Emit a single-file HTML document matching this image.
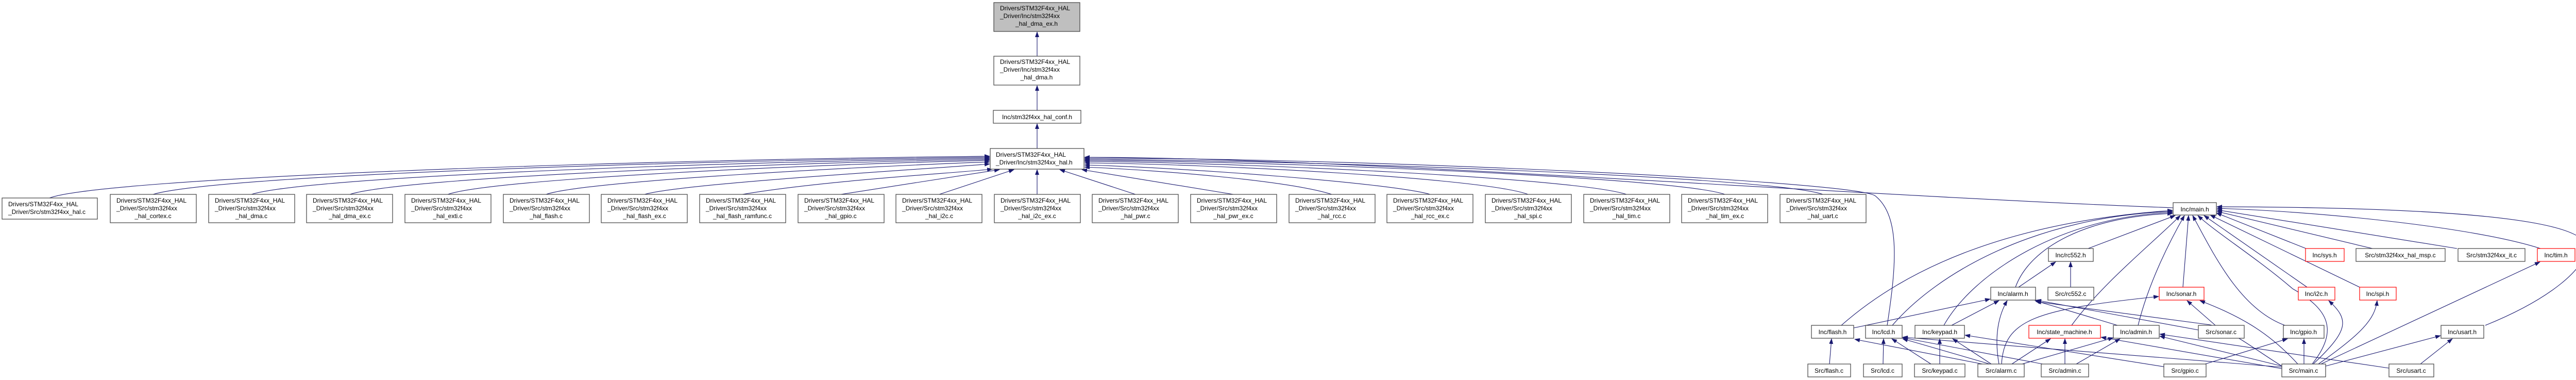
<!DOCTYPE html>
<html><head><meta charset="utf-8"><style>
html,body{margin:0;padding:0;background:#fff;}
svg{display:block;}
text{font-family:"Liberation Sans",Arial,sans-serif;font-size:12px;fill:#000;}
.b{fill:#fff;stroke:#404040;stroke-width:1.2;}
.r{fill:#fff;stroke:#ff0000;stroke-width:1.2;}
.g{fill:#bfbfbf;stroke:#404040;stroke-width:1.2;}
.e{fill:none;stroke:#191970;stroke-width:1.1;marker-end:url(#a);}
</style></head><body>
<svg width="5029" height="737" viewBox="0 0 5029 737" xmlns="http://www.w3.org/2000/svg">
<defs><marker id="a" markerUnits="userSpaceOnUse" markerWidth="11" markerHeight="8" refX="10" refY="4" orient="auto"><path d="M0,0 L11,4 L0,8 z" fill="#191970"/></marker></defs>

<!-- edges top -->
<path class="e" d="M2013,109 L2013,62"/>
<path class="e" d="M2013,214 L2013,166"/>
<path class="e" d="M2013,288 L2013,240"/>

<!-- src -> hal.h -->
<path class="e" d="M96,384 C200,345 1200,310 1921,303"/>
<path class="e" d="M297,377 C420,340 1300,312 1921,305"/>
<path class="e" d="M488,377 C600,342 1400,314 1921,307"/>
<path class="e" d="M679,377 C780,344 1500,316 1921,309"/>
<path class="e" d="M869,377 C960,346 1600,318 1921,311"/>
<path class="e" d="M1060,377 C1140,350 1700,322 1921,314"/>
<path class="e" d="M1251,377 C1330,355 1800,328 1921,318"/>
<path class="e" d="M1441,377 C1600,350 1850,336 1926,328"/>
<path class="e" d="M1632,377 L1940,329"/>
<path class="e" d="M1823,377 L1968,329"/>
<path class="e" d="M2013,377 L2013,329"/>
<path class="e" d="M2204,377 L2057,329"/>
<path class="e" d="M2394,377 L2100,329"/>
<path class="e" d="M2585,377 C2500,350 2250,330 2105,324"/>
<path class="e" d="M2776,377 C2700,355 2300,325 2105,320"/>
<path class="e" d="M2966,377 C2880,345 2350,318 2105,316"/>
<path class="e" d="M3157,377 C3060,345 2400,315 2105,313"/>
<path class="e" d="M3348,377 C3250,343 2450,312 2105,311"/>
<path class="e" d="M3538,377 C3440,342 2500,310 2105,309"/>
<path class="e" d="M4218,403 C3600,380 2600,305 2105,305"/>
<path class="e" d="M3663,631 C3680,520 3690,420 3640,380 C3600,350 2600,305 2105,307"/>

<!-- -> main.h -->
<path class="e" d="M3574,631 C3700,520 3900,430 4217,408"/>
<path class="e" d="M3673,631 C3760,530 3950,420 4217,410"/>
<path class="e" d="M3773,631 C3830,530 4000,420 4217,412"/>
<path class="e" d="M3912,557 C3940,480 4050,420 4217,414"/>
<path class="e" d="M4053,482 L4222,418"/>
<path class="e" d="M4021,631 C4080,550 4180,470 4232,418"/>
<path class="e" d="M4150,631 C4170,550 4210,470 4240,418"/>
<path class="e" d="M4237,557 L4248,418"/>
<path class="e" d="M4435,631 C4350,600 4300,500 4256,418"/>
<path class="e" d="M4488,706 C4540,640 4520,600 4450,560 C4380,500 4300,450 4266,418"/>
<path class="e" d="M4478,557 L4278,418"/>
<path class="e" d="M4580,557 L4290,417"/>
<path class="e" d="M4476,482 L4302,413"/>
<path class="e" d="M4605,482 L4303,410"/>
<path class="e" d="M4769,482 L4303,407"/>
<path class="e" d="M4931,482 C4800,440 4500,410 4303,404"/>
<path class="e" d="M4824,631 C4950,580 5020,520 5020,480 C5020,420 4700,402 4303,401"/>

<!-- rc552.h -->
<path class="e" d="M3918,557 L3990,508"/>
<path class="e" d="M4019,557 L4019,508"/>
<!-- alarm.h -->
<path class="e" d="M3598,636 L3863,580"/>
<path class="e" d="M3788,631 L3880,583"/>
<path class="e" d="M3880,706 C3870,650 3880,610 3896,583"/>
<path class="e" d="M4110,631 L3950,583"/>
<path class="e" d="M4267,640 L3952,582"/>
<path class="e" d="M4429,710 C4380,680 4330,640 4290,630 L3952,585"/>
<!-- sonar.h -->
<path class="e" d="M3885,706 C3890,620 3950,600 4190,575"/>
<path class="e" d="M4300,631 L4245,583"/>
<path class="e" d="M4460,706 C4400,640 4340,610 4270,583"/>
<!-- flash.h -->
<path class="e" d="M3551,706 L3555,657"/>
<path class="e" d="M3848,706 L3600,658"/>
<!-- lcd.h -->
<path class="e" d="M3655,706 L3656,657"/>
<path class="e" d="M3748,706 L3672,657"/>
<path class="e" d="M3862,706 L3693,657"/>
<path class="e" d="M3965,706 L3693,655"/>
<path class="e" d="M4429,712 L3693,654"/>
<!-- keypad.h -->
<path class="e" d="M3765,706 L3765,657"/>
<path class="e" d="M3865,706 L3790,657"/>
<path class="e" d="M4205,712 L3814,650"/>
<!-- state machine -->
<path class="e" d="M3905,706 L3980,657"/>
<path class="e" d="M4008,706 L4008,657"/>
<path class="e" d="M4429,715 L4078,654"/>
<!-- admin.h -->
<path class="e" d="M3925,706 L4102,655"/>
<path class="e" d="M4030,706 L4115,657"/>
<path class="e" d="M4429,710 L4192,652"/>
<path class="e" d="M4637,714 L4192,648"/>
<!-- gpio.h -->
<path class="e" d="M4280,706 L4440,657"/>
<path class="e" d="M4472,706 L4472,657"/>
<!-- i2c/spi/tim/usart -->
<path class="e" d="M4490,706 C4560,640 4560,620 4520,583"/>
<path class="e" d="M4500,706 C4580,650 4610,620 4614,583"/>
<path class="e" d="M4505,706 L4930,508"/>
<path class="e" d="M4514,710 L4737,651"/>
<path class="e" d="M4698,706 L4760,657"/>

<!-- top nodes -->
<rect class="g" x="1929" y="5" width="167" height="56"/>
<text x="1941" y="20">Drivers/STM32F4xx_HAL</text><text x="1941" y="35">_Driver/Inc/stm32f4xx</text><text x="2012" y="50" text-anchor="middle">_hal_dma_ex.h</text>
<rect class="b" x="1929" y="109" width="167" height="56"/>
<text x="1941" y="124">Drivers/STM32F4xx_HAL</text><text x="1941" y="139">_Driver/Inc/stm32f4xx</text><text x="2012" y="154" text-anchor="middle">_hal_dma.h</text>
<rect class="b" x="1928" y="214" width="170" height="25"/>
<text x="2013" y="231" text-anchor="middle">Inc/stm32f4xx_hal_conf.h</text>
<rect class="b" x="1922" y="288" width="182" height="40"/>
<text x="1933" y="304">Drivers/STM32F4xx_HAL</text><text x="1933" y="319">_Driver/Inc/stm32f4xx_hal.h</text>

<!-- src row -->
<rect class="b" x="4" y="384" width="185" height="41"/>
<text x="16" y="400">Drivers/STM32F4xx_HAL</text><text x="16" y="415">_Driver/Src/stm32f4xx_hal.c</text>
<g>
<rect class="b" x="214" y="377" width="167" height="55"/><text x="226" y="393">Drivers/STM32F4xx_HAL</text><text x="226" y="408">_Driver/Src/stm32f4xx</text><text x="297" y="423" text-anchor="middle">_hal_cortex.c</text>
<rect class="b" x="405" y="377" width="167" height="55"/><text x="417" y="393">Drivers/STM32F4xx_HAL</text><text x="417" y="408">_Driver/Src/stm32f4xx</text><text x="488" y="423" text-anchor="middle">_hal_dma.c</text>
<rect class="b" x="595" y="377" width="167" height="55"/><text x="607" y="393">Drivers/STM32F4xx_HAL</text><text x="607" y="408">_Driver/Src/stm32f4xx</text><text x="679" y="423" text-anchor="middle">_hal_dma_ex.c</text>
<rect class="b" x="786" y="377" width="167" height="55"/><text x="798" y="393">Drivers/STM32F4xx_HAL</text><text x="798" y="408">_Driver/Src/stm32f4xx</text><text x="869" y="423" text-anchor="middle">_hal_exti.c</text>
<rect class="b" x="977" y="377" width="167" height="55"/><text x="989" y="393">Drivers/STM32F4xx_HAL</text><text x="989" y="408">_Driver/Src/stm32f4xx</text><text x="1060" y="423" text-anchor="middle">_hal_flash.c</text>
<rect class="b" x="1167" y="377" width="167" height="55"/><text x="1179" y="393">Drivers/STM32F4xx_HAL</text><text x="1179" y="408">_Driver/Src/stm32f4xx</text><text x="1251" y="423" text-anchor="middle">_hal_flash_ex.c</text>
<rect class="b" x="1358" y="377" width="167" height="55"/><text x="1370" y="393">Drivers/STM32F4xx_HAL</text><text x="1370" y="408">_Driver/Src/stm32f4xx</text><text x="1441" y="423" text-anchor="middle">_hal_flash_ramfunc.c</text>
<rect class="b" x="1549" y="377" width="167" height="55"/><text x="1561" y="393">Drivers/STM32F4xx_HAL</text><text x="1561" y="408">_Driver/Src/stm32f4xx</text><text x="1632" y="423" text-anchor="middle">_hal_gpio.c</text>
<rect class="b" x="1739" y="377" width="167" height="55"/><text x="1751" y="393">Drivers/STM32F4xx_HAL</text><text x="1751" y="408">_Driver/Src/stm32f4xx</text><text x="1823" y="423" text-anchor="middle">_hal_i2c.c</text>
<rect class="b" x="1930" y="377" width="167" height="55"/><text x="1942" y="393">Drivers/STM32F4xx_HAL</text><text x="1942" y="408">_Driver/Src/stm32f4xx</text><text x="2013" y="423" text-anchor="middle">_hal_i2c_ex.c</text>
<rect class="b" x="2120" y="377" width="167" height="55"/><text x="2132" y="393">Drivers/STM32F4xx_HAL</text><text x="2132" y="408">_Driver/Src/stm32f4xx</text><text x="2204" y="423" text-anchor="middle">_hal_pwr.c</text>
<rect class="b" x="2311" y="377" width="167" height="55"/><text x="2323" y="393">Drivers/STM32F4xx_HAL</text><text x="2323" y="408">_Driver/Src/stm32f4xx</text><text x="2394" y="423" text-anchor="middle">_hal_pwr_ex.c</text>
<rect class="b" x="2502" y="377" width="167" height="55"/><text x="2514" y="393">Drivers/STM32F4xx_HAL</text><text x="2514" y="408">_Driver/Src/stm32f4xx</text><text x="2585" y="423" text-anchor="middle">_hal_rcc.c</text>
<rect class="b" x="2692" y="377" width="167" height="55"/><text x="2704" y="393">Drivers/STM32F4xx_HAL</text><text x="2704" y="408">_Driver/Src/stm32f4xx</text><text x="2776" y="423" text-anchor="middle">_hal_rcc_ex.c</text>
<rect class="b" x="2883" y="377" width="167" height="55"/><text x="2895" y="393">Drivers/STM32F4xx_HAL</text><text x="2895" y="408">_Driver/Src/stm32f4xx</text><text x="2966" y="423" text-anchor="middle">_hal_spi.c</text>
<rect class="b" x="3074" y="377" width="167" height="55"/><text x="3086" y="393">Drivers/STM32F4xx_HAL</text><text x="3086" y="408">_Driver/Src/stm32f4xx</text><text x="3157" y="423" text-anchor="middle">_hal_tim.c</text>
<rect class="b" x="3264" y="377" width="167" height="55"/><text x="3276" y="393">Drivers/STM32F4xx_HAL</text><text x="3276" y="408">_Driver/Src/stm32f4xx</text><text x="3348" y="423" text-anchor="middle">_hal_tim_ex.c</text>
<rect class="b" x="3455" y="377" width="167" height="55"/><text x="3467" y="393">Drivers/STM32F4xx_HAL</text><text x="3467" y="408">_Driver/Src/stm32f4xx</text><text x="3538" y="423" text-anchor="middle">_hal_uart.c</text>
</g>

<!-- app nodes -->
<g text-anchor="middle">
<rect class="b" x="4218" y="393" width="84" height="24"/><text x="4260" y="410">Inc/main.h</text>
<rect class="b" x="3976" y="482" width="87" height="25"/><text x="4019" y="499">Inc/rc552.h</text>
<rect class="r" x="4475" y="482" width="75" height="25"/><text x="4512" y="499">Inc/sys.h</text>
<rect class="b" x="4573" y="482" width="173" height="25"/><text x="4659" y="499">Src/stm32f4xx_hal_msp.c</text>
<rect class="b" x="4771" y="482" width="130" height="25"/><text x="4836" y="499">Src/stm32f4xx_it.c</text>
<rect class="r" x="4925" y="482" width="73" height="25"/><text x="4961" y="499">Inc/tim.h</text>

<rect class="b" x="3864" y="557" width="87" height="25"/><text x="3907" y="574">Inc/alarm.h</text>
<rect class="b" x="3975" y="557" width="89" height="25"/><text x="4019" y="574">Src/rc552.c</text>
<rect class="r" x="4191" y="557" width="87" height="25"/><text x="4234" y="574">Inc/sonar.h</text>
<rect class="r" x="4461" y="557" width="71" height="25"/><text x="4496" y="574">Inc/i2c.h</text>
<rect class="r" x="4580" y="557" width="71" height="25"/><text x="4615" y="574">Inc/spi.h</text>

<rect class="b" x="3516" y="631" width="82" height="25"/><text x="3557" y="648">Inc/flash.h</text>
<rect class="b" x="3621" y="631" width="71" height="25"/><text x="3656" y="648">Inc/lcd.h</text>
<rect class="b" x="3717" y="631" width="96" height="25"/><text x="3765" y="648">Inc/keypad.h</text>
<rect class="r" x="3938" y="631" width="139" height="25"/><text x="4007" y="648">Inc/state_machine.h</text>
<rect class="b" x="4102" y="631" width="89" height="25"/><text x="4146" y="648">Inc/admin.h</text>
<rect class="b" x="4267" y="631" width="89" height="25"/><text x="4311" y="648">Src/sonar.c</text>
<rect class="b" x="4432" y="631" width="79" height="25"/><text x="4471" y="648">Inc/gpio.h</text>
<rect class="b" x="4738" y="631" width="83" height="25"/><text x="4779" y="648">Inc/usart.h</text>

<rect class="b" x="3509" y="706" width="83" height="25"/><text x="3550" y="723">Src/flash.c</text>
<rect class="b" x="3617" y="706" width="75" height="25"/><text x="3654" y="723">Src/lcd.c</text>
<rect class="b" x="3716" y="706" width="98" height="25"/><text x="3765" y="723">Src/keypad.c</text>
<rect class="b" x="3839" y="706" width="90" height="25"/><text x="3884" y="723">Src/alarm.c</text>
<rect class="b" x="3962" y="706" width="92" height="25"/><text x="4008" y="723">Src/admin.c</text>
<rect class="b" x="4200" y="706" width="82" height="25"/><text x="4241" y="723">Src/gpio.c</text>
<rect class="b" x="4429" y="706" width="85" height="25"/><text x="4471" y="723">Src/main.c</text>
<rect class="b" x="4637" y="706" width="87" height="25"/><text x="4680" y="723">Src/usart.c</text>
</g>
</svg>
</body></html>
